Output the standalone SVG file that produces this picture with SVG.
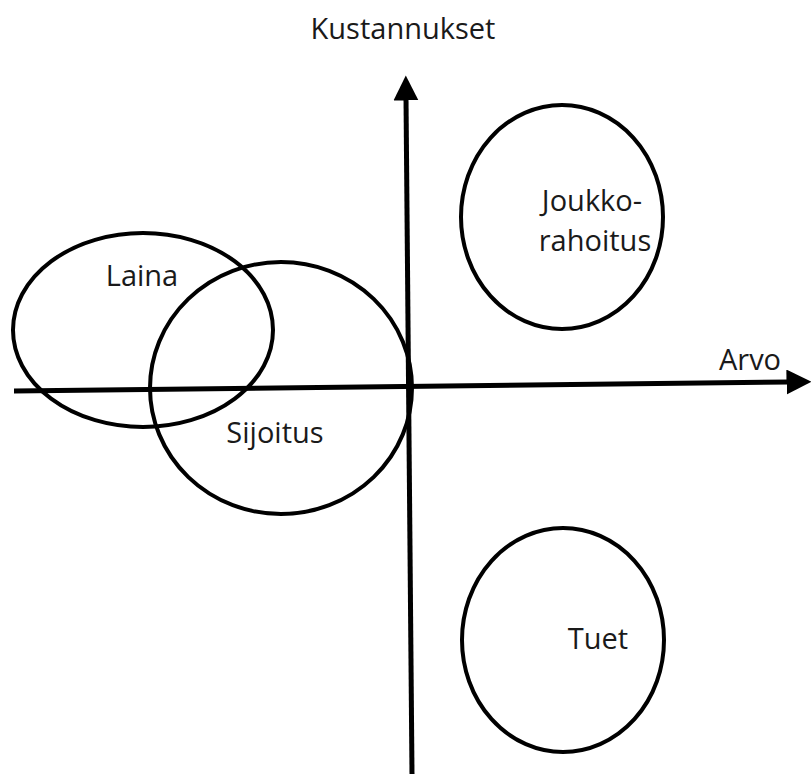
<svg xmlns="http://www.w3.org/2000/svg" width="811" height="774" viewBox="0 0 811 774">
<style>
.n{fill:none;stroke:#000;stroke-width:4}
.t{font-family:"Open Sans","Liberation Sans",sans-serif;font-size:29px;fill:#1a1a1a;text-anchor:middle}
.ax{stroke:#000;stroke-width:5;fill:none}
</style>
<defs>
<marker id="ah" markerWidth="5" markerHeight="5" refX="0.5" refY="2.5" orient="auto" markerUnits="strokeWidth">
<path d="M0,0 L5,2.5 L0,5 Z" fill="#000"/>
</marker>
</defs>
<rect width="811" height="774" fill="#fff"/>
<g id="connectors">
<line class="ax" x1="412" y1="774" x2="406" y2="98" marker-end="url(#ah)"/>
<line class="ax" x1="14" y1="391" x2="789" y2="382" marker-end="url(#ah)"/>
</g>
<g id="laina"><ellipse class="n" cx="143" cy="330" rx="130" ry="97"/><text class="t" x="142" y="286">Laina</text></g>
<g id="sijoitus"><ellipse class="n" cx="281" cy="388" rx="131" ry="126"/><text class="t" x="275" y="443">Sijoitus</text></g>
<g id="joukkorahoitus"><ellipse class="n" cx="562" cy="217" rx="101" ry="112"/><text class="t" x="592" y="211">Joukko-</text><text class="t" x="595" y="251">rahoitus</text></g>
<g id="tuet"><ellipse class="n" cx="563" cy="640" rx="101" ry="112"/><text class="t" x="598" y="649">Tuet</text></g>
<g id="labels"><text class="t" x="403" y="39">Kustannukset</text><text class="t" x="750" y="370">Arvo</text></g>
</svg>
